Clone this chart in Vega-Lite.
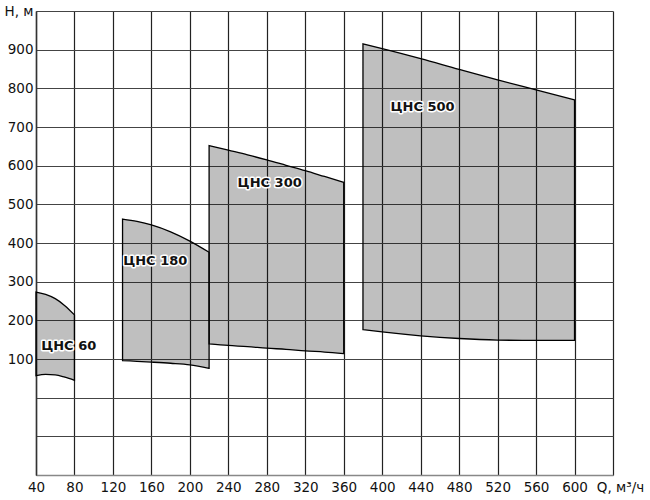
{
  "$schema": "https://vega.github.io/schema/vega-lite/v6.json",
  "autosize": "none",
  "width": 577,
  "height": 464,
  "padding": {"left": 36, "top": 11, "right": 37, "bottom": 25},
  "background": "white",
  "config": {
    "view": {"stroke": null},
    "axis": {
      "labelFont": "DejaVu Sans",
      "labelFontSize": 13.5,
      "labelColor": "#111",
      "ticks": false,
      "title": null,
      "gridWidth": 1.2,
      "domainColor": "#888",
      "domainWidth": 1.5,
      "labelOverlap": false,
      "labelBound": false,
      "labelFlush": false
    }
  },
  "datasets": {
    "zones": [
      {"pump": "ЦНС 60", "Q": 40, "Hmax": 273, "Hmin": 57},
      {"pump": "ЦНС 60", "Q": 50, "Hmax": 267, "Hmin": 60},
      {"pump": "ЦНС 60", "Q": 60, "Hmax": 256, "Hmin": 59},
      {"pump": "ЦНС 60", "Q": 70, "Hmax": 238, "Hmin": 53},
      {"pump": "ЦНС 60", "Q": 80, "Hmax": 214, "Hmin": 45},
      {"pump": "ЦНС 180", "Q": 130, "Hmax": 462, "Hmin": 96},
      {"pump": "ЦНС 180", "Q": 145, "Hmax": 456, "Hmin": 94},
      {"pump": "ЦНС 180", "Q": 160, "Hmax": 447, "Hmin": 92},
      {"pump": "ЦНС 180", "Q": 180, "Hmax": 429, "Hmin": 89},
      {"pump": "ЦНС 180", "Q": 200, "Hmax": 405, "Hmin": 85},
      {"pump": "ЦНС 180", "Q": 220, "Hmax": 376, "Hmin": 76},
      {"pump": "ЦНС 300", "Q": 220, "Hmax": 652, "Hmin": 139},
      {"pump": "ЦНС 300", "Q": 240, "Hmax": 640, "Hmin": 135},
      {"pump": "ЦНС 300", "Q": 260, "Hmax": 628, "Hmin": 132},
      {"pump": "ЦНС 300", "Q": 280, "Hmax": 615, "Hmin": 128},
      {"pump": "ЦНС 300", "Q": 300, "Hmax": 601, "Hmin": 125},
      {"pump": "ЦНС 300", "Q": 320, "Hmax": 587, "Hmin": 121},
      {"pump": "ЦНС 300", "Q": 340, "Hmax": 572, "Hmin": 118},
      {"pump": "ЦНС 300", "Q": 360, "Hmax": 557, "Hmin": 114},
      {"pump": "ЦНС 500", "Q": 380, "Hmax": 915, "Hmin": 176},
      {"pump": "ЦНС 500", "Q": 400, "Hmax": 903, "Hmin": 170},
      {"pump": "ЦНС 500", "Q": 440, "Hmax": 877, "Hmin": 160},
      {"pump": "ЦНС 500", "Q": 480, "Hmax": 849, "Hmin": 153},
      {"pump": "ЦНС 500", "Q": 520, "Hmax": 822, "Hmin": 149},
      {"pump": "ЦНС 500", "Q": 560, "Hmax": 796, "Hmin": 148},
      {"pump": "ЦНС 500", "Q": 600, "Hmax": 770, "Hmin": 148}
    ],
    "labels": [
      {"pump": "ЦНС 60", "Q": 74, "H": 134},
      {"pump": "ЦНС 180", "Q": 164, "H": 354},
      {"pump": "ЦНС 300", "Q": 283, "H": 556},
      {"pump": "ЦНС 500", "Q": 442, "H": 751}
    ]
  },
  "layer": [
    {
      "data": {"name": "zones"},
      "mark": {"type": "area", "interpolate": "monotone", "fill": "#000", "fillOpacity": 0.25, "stroke": "#000", "strokeWidth": 1.3},
      "encoding": {
        "x": {
          "field": "Q", "type": "quantitative",
          "scale": {"domain": [40, 640], "nice": false, "zero": false},
          "axis": {
            "values": [40, 80, 120, 160, 200, 240, 280, 320, 360, 400, 440, 480, 520, 560, 600, 640],
            "labelExpr": "datum.value == 640 ? 'Q, м³/ч' : datum.label",
            "labelOffset": {"condition": {"test": "datum.value == 640", "value": 7}, "value": 0},
            "labelPadding": 5,
            "gridColor": "#222"
          }
        },
        "y": {
          "field": "Hmax", "type": "quantitative",
          "scale": {"domain": [-200, 1000], "nice": false, "zero": false},
          "axis": {
            "values": [-200, -100, 0, 100, 200, 300, 400, 500, 600, 700, 800, 900, 1000],
            "labelExpr": "datum.value == 1000 ? 'H, м' : (datum.value >= 100 ? datum.label : '')",
            "labelPadding": 3,
            "gridColor": "#444",
            "domainColor": "#333"
          }
        },
        "y2": {"field": "Hmin"},
        "detail": {"field": "pump"}
      }
    },
    {
      "data": {"name": "labels"},
      "mark": {"type": "text", "font": "DejaVu Sans", "fontSize": 13, "fontWeight": "bold", "stroke": "white", "strokeWidth": 3, "strokeJoin": "round", "fill": "white"},
      "encoding": {
        "x": {
          "field": "Q", "type": "quantitative",
          "axis": {
            "values": [40, 80, 120, 160, 200, 240, 280, 320, 360, 400, 440, 480, 520, 560, 600, 640],
            "labelExpr": "datum.value == 640 ? 'Q, м³/ч' : datum.label",
            "labelOffset": {"condition": {"test": "datum.value == 640", "value": 7}, "value": 0},
            "labelPadding": 5,
            "gridColor": "#222"
          }
        },
        "y": {
          "field": "H", "type": "quantitative",
          "axis": {
            "values": [-200, -100, 0, 100, 200, 300, 400, 500, 600, 700, 800, 900, 1000],
            "labelExpr": "datum.value == 1000 ? 'H, м' : (datum.value >= 100 ? datum.label : '')",
            "labelPadding": 3,
            "gridColor": "#444",
            "domainColor": "#333"
          }
        },
        "text": {"field": "pump"}
      }
    },
    {
      "data": {"name": "labels"},
      "mark": {"type": "text", "font": "DejaVu Sans", "fontSize": 13, "fontWeight": "bold", "fill": "#111"},
      "encoding": {
        "x": {
          "field": "Q", "type": "quantitative",
          "axis": {
            "values": [40, 80, 120, 160, 200, 240, 280, 320, 360, 400, 440, 480, 520, 560, 600, 640],
            "labelExpr": "datum.value == 640 ? 'Q, м³/ч' : datum.label",
            "labelOffset": {"condition": {"test": "datum.value == 640", "value": 7}, "value": 0},
            "labelPadding": 5,
            "gridColor": "#222"
          }
        },
        "y": {
          "field": "H", "type": "quantitative",
          "axis": {
            "values": [-200, -100, 0, 100, 200, 300, 400, 500, 600, 700, 800, 900, 1000],
            "labelExpr": "datum.value == 1000 ? 'H, м' : (datum.value >= 100 ? datum.label : '')",
            "labelPadding": 3,
            "gridColor": "#444",
            "domainColor": "#333"
          }
        },
        "text": {"field": "pump"}
      }
    }
  ]
}
